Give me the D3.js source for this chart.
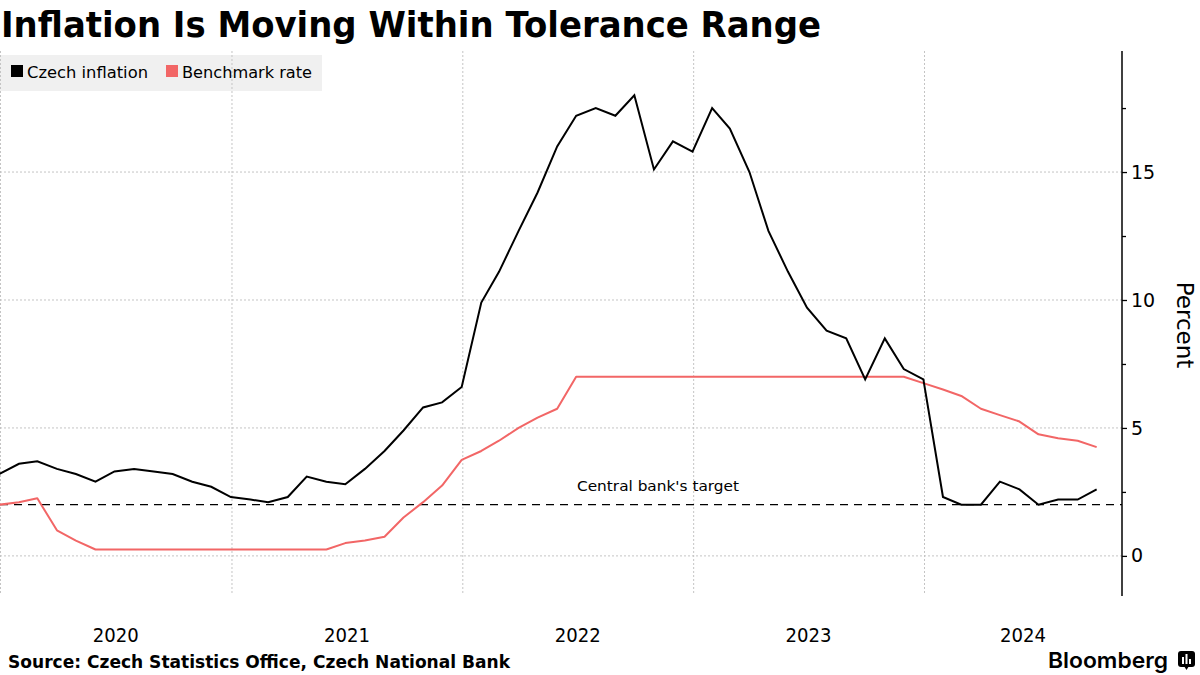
<!DOCTYPE html>
<html>
<head>
<meta charset="utf-8">
<script src="https://cdn.jsdelivr.net/npm/d3@7"></script>
<style>
  html, body { margin: 0; padding: 0; background: #fff; }
  svg { display: block; }
</style>
</head>
<body>
<svg id="chart" width="1200" height="675"></svg>
<script>
// ---------- Data ----------
const months = [
  "2019-12",
  "2020-01","2020-02","2020-03","2020-04","2020-05","2020-06","2020-07","2020-08","2020-09","2020-10","2020-11","2020-12",
  "2021-01","2021-02","2021-03","2021-04","2021-05","2021-06","2021-07","2021-08","2021-09","2021-10","2021-11","2021-12",
  "2022-01","2022-02","2022-03","2022-04","2022-05","2022-06","2022-07","2022-08","2022-09","2022-10","2022-11","2022-12",
  "2023-01","2023-02","2023-03","2023-04","2023-05","2023-06","2023-07","2023-08","2023-09","2023-10","2023-11","2023-12",
  "2024-01","2024-02","2024-03","2024-04","2024-05","2024-06","2024-07","2024-08","2024-09"
];
const czechInflation = [
  3.2,
  3.6, 3.7, 3.4, 3.2, 2.9, 3.3, 3.4, 3.3, 3.2, 2.9, 2.7, 2.3,
  2.2, 2.1, 2.3, 3.1, 2.9, 2.8, 3.4, 4.1, 4.9, 5.8, 6.0, 6.6,
  9.9, 11.1, 12.7, 14.2, 16.0, 17.2, 17.5, 17.2, 18.0, 15.1, 16.2, 15.8,
  17.5, 16.7, 15.0, 12.7, 11.1, 9.7, 8.8, 8.5, 6.9, 8.5, 7.3, 6.9,
  2.3, 2.0, 2.0, 2.9, 2.6, 2.0, 2.2, 2.2, 2.6
];
const benchmarkRate = [
  2.0,
  2.1, 2.25, 1.0, 0.6, 0.25, 0.25, 0.25, 0.25, 0.25, 0.25, 0.25, 0.25,
  0.25, 0.25, 0.25, 0.25, 0.25, 0.5, 0.6, 0.75, 1.5, 2.1, 2.75, 3.75,
  4.1, 4.5, 5.0, 5.4, 5.75, 7.0, 7.0, 7.0, 7.0, 7.0, 7.0, 7.0,
  7.0, 7.0, 7.0, 7.0, 7.0, 7.0, 7.0, 7.0, 7.0, 7.0, 7.0, 6.75,
  6.5, 6.25, 5.75, 5.5, 5.25, 4.75, 4.6, 4.5, 4.25
];
const targetRate = 2;
const yTicks = [0, 5, 10, 15];
const yMinorTicks = [2.5, 7.5, 12.5, 17.5];
const yearLabels = ["2020", "2021", "2022", "2023", "2024"];
const seriesNames = ["Czech inflation", "Benchmark rate"];
const seriesColors = ["#000000", "#f26666"];

// ---------- Layout ----------
const svg = d3.select("#chart");
const plotLeft = 0, plotRight = 1122, plotTop = 51, plotBottom = 593;

const parseMonthEnd = s => { const [y, m] = s.split("-").map(Number); return new Date(y, m, 0); };
const t0 = new Date(2020, 0, 1), t4 = new Date(2024, 0, 1);
const tEnd = new Date(t0.getTime() + (t4 - t0) * (plotRight - plotLeft) / 924);

const x = d3.scaleTime().domain([t0, tEnd]).range([plotLeft, plotRight]);
const y = d3.scaleLinear().domain([-1.45, 19.73]).range([plotBottom, plotTop]);

const FONT = "'DejaVu Sans', Verdana, sans-serif";

// Legend background
svg.append("rect").attr("x", 0).attr("y", 55).attr("width", 322).attr("height", 36).attr("fill", "#f0f0f0");

// Grid
const grid = svg.append("g");
grid.selectAll("line.h").data(yTicks).join("line")
  .attr("x1", plotLeft).attr("x2", plotRight)
  .attr("y1", d => y(d)).attr("y2", d => y(d))
  .attr("stroke", "#c4c4c4").attr("stroke-width", 1).attr("stroke-dasharray", "2,2");
const yearStarts = yearLabels.map(s => new Date(+s, 0, 1));
grid.selectAll("line.v").data(yearStarts).join("line")
  .attr("x1", d => x(d) + 0.5).attr("x2", d => x(d) + 0.5)
  .attr("y1", plotTop).attr("y2", plotBottom)
  .attr("stroke", "#c4c4c4").attr("stroke-width", 1).attr("stroke-dasharray", "2,2");

// Target line
svg.append("line")
  .attr("x1", plotLeft).attr("x2", plotRight)
  .attr("y1", y(targetRate)).attr("y2", y(targetRate))
  .attr("stroke", "#000").attr("stroke-width", 1.3).attr("stroke-dasharray", "8,6");
svg.append("text").attr("x", 577).attr("y", y(targetRate) - 14)
  .attr("font-family", FONT).attr("font-size", 14).attr("fill", "#000")
  .attr("textLength", 162).attr("lengthAdjust", "spacingAndGlyphs")
  .text("Central bank's target");

// Lines
const dates = months.map(parseMonthEnd);
const line = d3.line().x((d, i) => x(dates[i])).y(d => y(d));
svg.append("path").datum(benchmarkRate).attr("d", line)
  .attr("fill", "none").attr("stroke", seriesColors[1]).attr("stroke-width", 2).attr("stroke-linejoin", "round");
svg.append("path").datum(czechInflation).attr("d", line)
  .attr("fill", "none").attr("stroke", seriesColors[0]).attr("stroke-width", 2).attr("stroke-linejoin", "miter");

// Right axis
const yAxis = d3.axisRight(y).tickValues(yTicks).tickSize(5).tickPadding(4).tickFormat(d3.format("d"));
const gy = svg.append("g").attr("transform", `translate(${plotRight},0)`).call(yAxis);
gy.select(".domain").remove();
gy.selectAll("text").attr("font-family", FONT).attr("font-size", 19).attr("fill", "#000");
gy.selectAll("line").attr("stroke", "#000").attr("stroke-width", 1.3);
const yMinor = d3.axisRight(y).tickValues(yMinorTicks).tickSize(4).tickFormat("");
const gym = svg.append("g").attr("transform", `translate(${plotRight},0)`).call(yMinor);
gym.select(".domain").remove();
gym.selectAll("line").attr("stroke", "#000").attr("stroke-width", 1.3);
svg.append("line").attr("x1", plotRight).attr("x2", plotRight)
  .attr("y1", plotTop).attr("y2", plotBottom + 3)
  .attr("stroke", "#000").attr("stroke-width", 1.5);

svg.append("text")
  .attr("transform", `translate(1177, ${(280 + 370) / 2}) rotate(90)`)
  .attr("text-anchor", "middle")
  .attr("font-family", FONT).attr("font-size", 23).attr("fill", "#000")
  .text("Percent");

// Year labels centred in visible part of each year
svg.append("g").selectAll("text").data(yearLabels).join("text")
  .attr("x", d => {
    const a = Math.max(plotLeft, x(new Date(+d, 0, 1)));
    const b = Math.min(plotRight, x(new Date(+d + 1, 0, 1)));
    return (a + b) / 2;
  })
  .attr("y", 642)
  .attr("text-anchor", "middle")
  .attr("font-family", FONT).attr("font-size", 19).attr("fill", "#000")
  .attr("textLength", 46).attr("lengthAdjust", "spacingAndGlyphs")
  .text(d => d);

// Legend
const legendItems = [
  { name: seriesNames[0], color: seriesColors[0], sx: 11, tx: 27, w: 121 },
  { name: seriesNames[1], color: seriesColors[1], sx: 166, tx: 182, w: 130 }
];
const lg = svg.append("g");
lg.selectAll("rect").data(legendItems).join("rect")
  .attr("x", d => d.sx).attr("y", 65).attr("width", 12).attr("height", 12).attr("fill", d => d.color);
lg.selectAll("text").data(legendItems).join("text")
  .attr("x", d => d.tx).attr("y", 78)
  .attr("font-family", FONT).attr("font-size", 16).attr("fill", "#000")
  .attr("textLength", d => d.w).attr("lengthAdjust", "spacingAndGlyphs")
  .text(d => d.name);

// Title
svg.append("text").attr("x", 1).attr("y", 37)
  .attr("font-family", FONT).attr("font-weight", "bold").attr("font-size", 36).attr("fill", "#000")
  .attr("textLength", 820).attr("lengthAdjust", "spacingAndGlyphs")
  .text("Inflation Is Moving Within Tolerance Range");

// Footer
svg.append("text").attr("x", 8).attr("y", 668)
  .attr("font-family", FONT).attr("font-weight", "bold").attr("font-size", 17).attr("fill", "#000")
  .attr("textLength", 502).attr("lengthAdjust", "spacingAndGlyphs")
  .text("Source: Czech Statistics Office, Czech National Bank");

svg.append("text").attr("x", 1048).attr("y", 668)
  .attr("font-family", "Inter, 'DejaVu Sans', sans-serif").attr("font-weight", 600).attr("font-size", 22).attr("fill", "#000")
  .attr("textLength", 120).attr("lengthAdjust", "spacingAndGlyphs")
  .text("Bloomberg");
const logo = svg.append("g").attr("transform", "translate(1178,651)");
logo.append("rect").attr("width", 17).attr("height", 16).attr("rx", 3).attr("fill", "#000");
logo.append("path").attr("d", "M6,15 L8.5,19 L11,15 Z").attr("fill", "#000");
logo.append("rect").attr("x", 4).attr("y", 6).attr("width", 2).attr("height", 7).attr("fill", "#fff");
logo.append("rect").attr("x", 7.5).attr("y", 3).attr("width", 2).attr("height", 10).attr("fill", "#fff");
logo.append("rect").attr("x", 11).attr("y", 8).attr("width", 2).attr("height", 5).attr("fill", "#fff");
</script>
</body>
</html>
